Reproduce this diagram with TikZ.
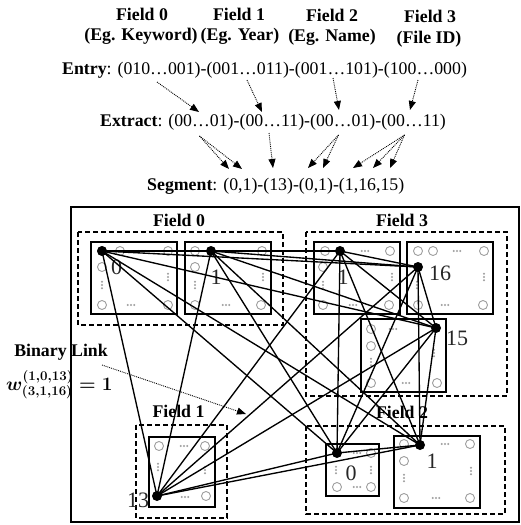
\RequirePackage{fix-cm}
\documentclass[tikz,border=0pt]{standalone}
\usepackage{fontspec}
\setmainfont{Liberation Serif}
\usetikzlibrary{arrows.meta}
\pgfdeclarelayer{boxes}
\pgfdeclarelayer{links}
\pgfsetlayers{boxes,links,main}

\tikzset{
  lbl/.style={font=\fontsize{17.8}{20}\selectfont\bfseries, inner sep=0pt, anchor=base},
  txt/.style={font=\fontsize{17.8}{20}\selectfont, inner sep=0pt, anchor=base west},
  num/.style={font=\fontsize{22}{24}\selectfont, text=black!85, inner sep=0pt, anchor=base},
  formula/.style={font=\fontsize{19}{22}\selectfont\boldmath, inner sep=0pt, anchor=base west},
  note/.style={densely dotted, line width=0.9pt, -{Triangle[length=9pt,width=7pt]}},
  frame/.style={draw, line width=1.6pt},
  fieldbox/.style={draw, line width=1.3pt, dash pattern=on 5pt off 3pt},
  cellbox/.style={draw, line width=1.4pt},
  ring/.style={draw=black!38, line width=0.9pt},
  link/.style={line width=1.35pt},
  vertex/.style={circle, fill=black, inner sep=0pt, minimum size=10pt},
  hdots/.pic={\foreach \i in {-1,0,1} \fill[black!38] (\i*3.3,0) circle (1.1pt);},
  vdots/.pic={\foreach \i in {-1,0,1} \fill[black!38] (0,\i*3.3) circle (1.1pt);},
}

\begin{document}
\begin{tikzpicture}[x=1pt,y=-1pt]
\useasboundingbox (0,0) rectangle (521,525);

% ---- header: fields, entry, extract, segment ----
\node[lbl] (f0t) at (142,20)   {Field 0};
\node[lbl] (f0s) at (141,40.5) {(Eg. Keyword)};
\node[lbl] (f1t) at (239,20)   {Field 1};
\node[lbl] (f1s) at (240,40.5) {(Eg. Year)};
\node[lbl] (f2t) at (332,21)   {Field 2};
\node[lbl] (f2s) at (332,41.5) {(Eg. Name)};
\node[lbl] (f3t) at (430,22)   {Field 3};
\node[lbl] (f3s) at (429,43)   {(File ID)};

\node[txt] (entry)   at (62,74.5) {\textbf{Entry}: (010…001)-(001…011)-(001…101)-(100…000)};
\node[txt] (extract) at (100,126) {\textbf{Extract}: (00…01)-(00…11)-(00…01)-(00…11)};
\node[txt] (segment) at (147,190) {\textbf{Segment}: (0,1)-(13)-(0,1)-(1,16,15)};

% entry -> extract
\coordinate (en0) at (157,82);  \coordinate (ex0) at (199,112);
\coordinate (en1) at (247,80);  \coordinate (ex1) at (262,112);
\coordinate (en2) at (333,78);  \coordinate (ex2) at (339,110);
\coordinate (en3) at (418,80);  \coordinate (ex3) at (410,110);
\draw[note] (en0) -- (ex0);
\draw[note] (en1) -- (ex1);
\draw[note] (en2) -- (ex2);
\draw[note] (en3) -- (ex3);

% extract -> segment
\coordinate (xs0) at (199.5,136); \coordinate (xs1) at (269,133);
\coordinate (xs2) at (338.5,135); \coordinate (xs3) at (404.5,135);
\coordinate (sg0a) at (229,169); \coordinate (sg0b) at (242,169);
\coordinate (sg1)  at (273,168);
\coordinate (sg2a) at (308,168); \coordinate (sg2b) at (323,168);
\coordinate (sg3a) at (353,168); \coordinate (sg3b) at (373,168); \coordinate (sg3c) at (390,168);
\draw[note] (xs0) -- (sg0a);
\draw[note] (xs0) -- (sg0b);
\draw[note] (xs1) -- (sg1);
\draw[note] (xs2) -- (sg2a);
\draw[note] (xs2) -- (sg2b);
\draw[note] (xs3) -- (sg3a);
\draw[note] (xs3) -- (sg3b);
\draw[note] (xs3) -- (sg3c);

% ---- vertices ----
\node[vertex] (vA) at (102,251) {};
\node[vertex] (vB) at (211,251) {};
\node[vertex] (vC) at (340,251) {};
\node[vertex] (vD) at (418,267) {};
\node[vertex] (vE) at (436,328) {};
\node[vertex] (vF) at (157,496) {};
\node[vertex] (vG) at (337,453) {};
\node[vertex] (vH) at (420,445) {};

% ---- frames, fields, cells ----
\begin{pgfonlayer}{boxes}
\draw[frame] (71,207) rectangle (519,522);

\draw[fieldbox] (78,232) rectangle (283,325);
\draw[fieldbox] (306,232) rectangle (507,396);
\draw[fieldbox] (136,425) rectangle (227,518);
\draw[fieldbox] (306,426) rectangle (505,514);

\node[lbl] (lf0) at (179,226)   {Field 0};
\node[lbl] (lf3) at (402,226)   {Field 3};
\node[lbl] (lf1) at (178.5,417.5) {Field 1};
\node[lbl] (lf2) at (402,418)   {Field 2};

\draw[cellbox] (91,242) rectangle (177,314);
\draw[cellbox] (185,242) rectangle (271,314);
\draw[cellbox] (314,242) rectangle (400,314);
\draw[cellbox] (407,242) rectangle (493,314);
\draw[cellbox] (361,319) rectangle (446,392);
\draw[cellbox] (149,437) rectangle (215,507);
\draw[cellbox] (326,444) rectangle (379,496);
\draw[cellbox] (394,436) rectangle (480,508);

% rings
\foreach \p in {(102,251),(120,251),(168,251),(102,267),(102,305),(168,305),
                (195,251),(262,251),(195,267),(195,305),(261,305),
                (325,251),(390,251),(323,267),(323,305),(389,305),
                (418,251),(433,251),(484,251),(418,305),(483,305),
                (371,329),(371,346),(371,383),(437,383),
                (159,446),(205,446),(206,496),
                (371,453),(337,487),(371,487),
                (404,444),(470,444),(404,461),(404,498),(470,498)}
  \draw[ring] \p circle (4.5pt);

% dot rows and columns
\foreach \p in {(142,251),(131,305),(233,251),(226,305),(365,251),(353,305),
                (457,251),(445,305),(393,329),(406,383),(184,446),(185,497),
                (357,453),(357,487),(445,444),(436,498)}
  \pic at \p {hdots};
\foreach \p in {(102,285),(168,277),(195,285),(263,277),(323,285),(392,277),
                (417,285),(484,277),(371,362),(434,353),(158,467),(205,470),
                (336,470),(371,470),(404,478),(471,471)}
  \pic at \p {vdots};

% cell numbers
\node[num] (n00) at (116.5,274) {0};
\node[num] (n01) at (216,284)   {1};
\node[num] (n31) at (343,284)   {1};
\node[num] (n316) at (440,280)  {16};
\node[num] (n315) at (457,345)  {15};
\node[num] (n113) at (138,507)  {13};
\node[num] (n20) at (351,480)   {0};
\node[num] (n21) at (432,468)   {1};
\end{pgfonlayer}

% ---- binary links between all segment cells ----
\begin{pgfonlayer}{links}
\foreach \a/\b in {vA/vB,vA/vC,vA/vD,vA/vE,vA/vF,vA/vG,vA/vH,
                   vB/vC,vB/vD,vB/vE,vB/vF,vB/vG,vB/vH,
                   vC/vD,vC/vE,vC/vF,vC/vG,vC/vH,
                   vD/vE,vD/vF,vD/vG,vD/vH,
                   vE/vF,vE/vG,vE/vH,
                   vF/vG,vF/vH,
                   vG/vH}
  \draw[link] (\a.center) -- (\b.center);
\end{pgfonlayer}

% ---- binary link annotation ----
\node[lbl] (blink) at (61,356) {Binary Link};
\node[formula] (wlink) at (6,390.5) {$w^{(1,0,13)}_{(3,1,16)} = 1$};
\coordinate (blS) at (102,365);
\coordinate (blT) at (246,414);
\draw[note] (blS) -- (blT);
\end{tikzpicture}
\end{document}
